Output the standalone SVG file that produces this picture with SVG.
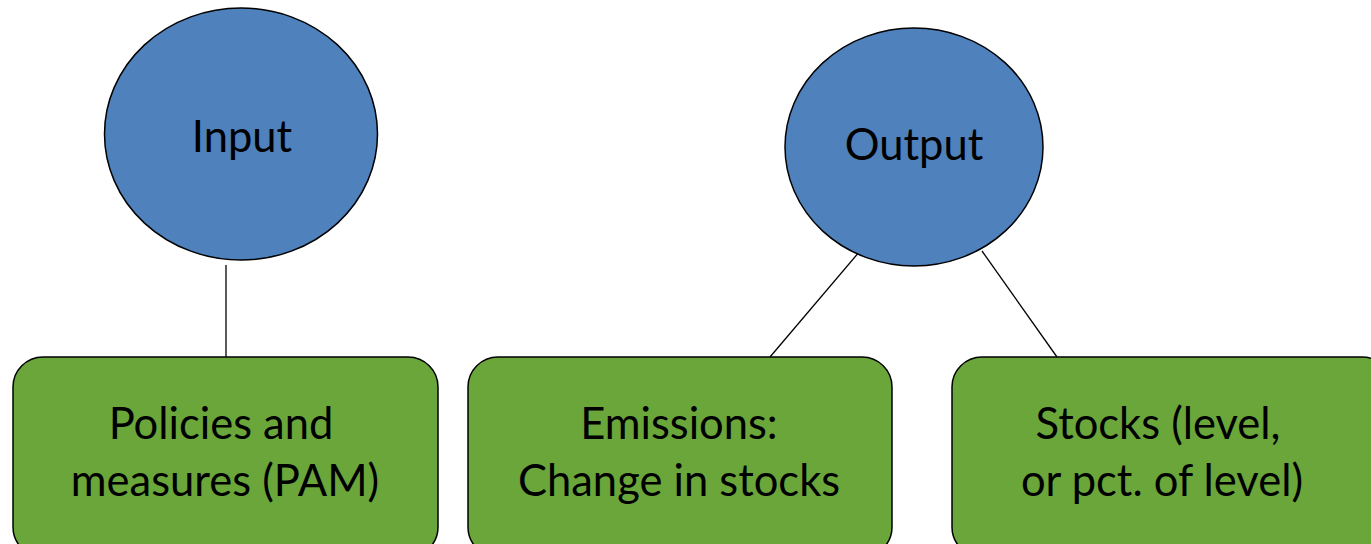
<svg xmlns="http://www.w3.org/2000/svg" width="1371" height="544" viewBox="0 0 1371 544">
  <style>
    .circle { fill: #4F81BD; stroke: #000; stroke-width: 1.5; }
    .box { fill: #6AA63A; stroke: #000; stroke-width: 1.5; }
    .edge { stroke: #000; stroke-width: 1.3; fill: none; }
    .label { font-family: Lato, "Open Sans", "Liberation Sans", sans-serif; font-size: 43.5px; fill: #000; text-anchor: middle; }
  </style>
  <rect width="1371" height="544" fill="#fff"/>

  <g id="connectors">
    <line class="edge" x1="226" y1="265" x2="226" y2="357"/>
    <line class="edge" x1="860" y1="251" x2="770" y2="357"/>
    <line class="edge" x1="982" y1="251" x2="1057" y2="357"/>
  </g>

  <g id="node-input">
    <ellipse class="circle" cx="241" cy="134" rx="136.5" ry="126"/>
    <text class="label" x="242" y="152">Input</text>
  </g>

  <g id="node-output">
    <ellipse class="circle" cx="914" cy="147" rx="129" ry="119"/>
    <text class="label" x="914" y="160">Output</text>
  </g>

  <g id="node-pam">
    <rect class="box" x="13" y="357" width="425" height="200" rx="30" ry="30"/>
    <text class="label" x="221" y="439">Policies and</text>
    <text class="label" x="225" y="496">measures (PAM)</text>
  </g>

  <g id="node-emissions">
    <rect class="box" x="468" y="357" width="424" height="200" rx="30" ry="30"/>
    <text class="label" x="679" y="439">Emissions:</text>
    <text class="label" x="679" y="496">Change in stocks</text>
  </g>

  <g id="node-stocks">
    <rect class="box" x="952" y="357" width="440" height="200" rx="30" ry="30"/>
    <text class="label" x="1158" y="439">Stocks (level,</text>
    <text class="label" x="1162" y="496">or pct. of level)</text>
  </g>
</svg>
